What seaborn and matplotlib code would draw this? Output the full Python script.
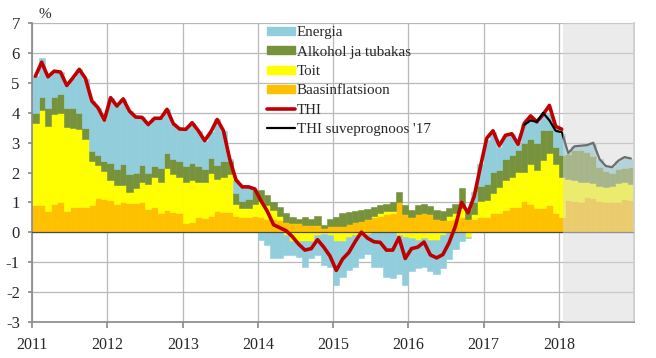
import numpy as np
import pandas as pd
import matplotlib
matplotlib.use("Agg")
import matplotlib.pyplot as plt
from matplotlib.patches import Patch
from matplotlib.lines import Line2D
import seaborn as sns

# monthly contributions to inflation, Jan 2011 - Dec 2018 (2018 Feb.. is forecast)
years = ["2011", "2012", "2013", "2014", "2015", "2016", "2017", "2018"]

baasinflatsioon = [
    0.91, 0.91, 0.72, 0.96, 1.02, 0.72, 0.85, 0.83, 0.83, 0.91, 1.16, 1.13,
    1.07, 0.93, 1.02, 0.98, 0.98, 1.00, 0.79, 0.85, 0.66, 0.76, 0.68, 0.65,
    0.31, 0.35, 0.51, 0.46, 0.55, 0.70, 0.68, 0.68, 0.55, 0.50, 0.50, 0.55,
    0.50, 0.45, 0.45, 0.40, 0.35, 0.30, 0.30, 0.25, 0.25, 0.25, 0.15, 0.20,
    0.20, 0.22, 0.28, 0.33, 0.38, 0.45, 0.50, 0.55, 0.60, 0.65, 1.00, 0.60,
    0.50, 0.60, 0.65, 0.60, 0.45, 0.40, 0.40, 0.45, 0.50, 0.45, 0.45, 0.50,
    0.50, 0.65, 0.63, 0.74, 0.85, 0.83, 1.05, 0.96, 0.80, 0.80, 0.90, 0.63,
    0.50, 1.07, 1.05, 1.02, 1.19, 1.15, 1.05, 1.02, 1.00, 1.00, 1.10, 1.07,
]
toit = [
    2.76, 3.18, 2.84, 3.01, 2.96, 2.81, 2.65, 2.64, 2.28, 1.48, 1.11, 0.92,
    0.68, 0.65, 0.56, 0.37, 0.49, 0.69, 0.84, 1.01, 1.03, 1.39, 1.27, 1.21,
    1.38, 1.40, 1.18, 1.23, 1.45, 1.10, 1.17, 1.27, 0.40, 0.30, 0.30, 0.40,
    0.55, 0.45, 0.30, 0.15, -0.10, -0.30, -0.30, -0.30, -0.30, -0.10, -0.05, -0.10,
    -0.30, -0.30, -0.15, -0.10, -0.10, -0.05, 0.05, 0.10, 0.10, 0.05, -0.10, -0.15,
    -0.20, -0.25, -0.20, -0.25, -0.25, -0.10, 0.15, 0.20, 0.30, -0.15, 0.15, 0.55,
    0.57, 0.65, 0.89, 1.00, 1.01, 1.19, 0.97, 1.34, 1.28, 1.62, 1.74, 1.67,
    1.36, 0.73, 0.70, 0.68, 0.49, 0.50, 0.50, 0.50, 0.55, 0.65, 0.58, 0.56,
]
alkohol = [
    0.33, 0.44, 0.61, 0.57, 0.66, 0.62, 0.67, 0.53, 0.39, 0.33, 0.31, 0.34,
    0.58, 0.53, 0.72, 0.59, 0.53, 0.58, 0.37, 0.36, 0.47, 0.51, 0.51, 0.53,
    0.53, 0.56, 0.53, 0.42, 0.50, 0.45, 0.55, 0.45, 0.35, 0.25, 0.30, 0.45,
    0.36, 0.34, 0.27, 0.30, 0.28, 0.20, 0.15, 0.25, 0.20, 0.30, 0.10, 0.25,
    0.30, 0.41, 0.40, 0.39, 0.36, 0.33, 0.28, 0.25, 0.25, 0.30, 0.35, 0.30,
    0.25, 0.30, 0.31, 0.27, 0.29, 0.30, 0.25, 0.30, 0.67, 0.30, 0.40, 0.50,
    0.56, 0.72, 0.58, 0.73, 0.72, 0.73, 0.96, 0.84, 0.90, 1.00, 0.78, 0.56,
    0.72, 0.82, 1.00, 1.05, 1.02, 0.90, 0.65, 0.53, 0.45, 0.47, 0.47, 0.57,
]
energia = [
    1.23, 1.30, 1.04, 0.86, 0.73, 0.77, 1.01, 1.46, 1.65, 1.68, 1.59, 1.37,
    2.18, 2.12, 2.17, 2.12, 1.86, 1.58, 1.61, 1.60, 1.66, 1.46, 1.18, 1.07,
    1.23, 1.36, 1.18, 0.96, 0.87, 1.53, 1.00, 0.05, 0.45, 0.47, 0.42, 0.05,
    -0.27, -0.44, -0.88, -0.88, -0.67, -0.47, -0.53, -0.86, -0.58, -0.67, -1.05, -1.06,
    -1.48, -1.20, -1.13, -1.06, -0.78, -0.67, -1.16, -1.16, -1.50, -1.55, -1.30, -1.63,
    -1.10, -0.95, -0.95, -1.05, -1.15, -1.10, -0.90, -0.55, -0.30, -0.05, 0.35, 0.75,
    1.45, 1.35, 0.75, 0.75, 0.70, 0.20, 0.65, 0.70, 0.70, 0.50, 0.55, 0.65,
    0.72, 0.03, 0.13, 0.15, 0.22, 0.45, 0.25, 0.17, 0.18, 0.28, 0.37, 0.27,
]
# headline inflation, Jan 2011 - Jan 2018
thi = [
    5.23, 5.70, 5.21, 5.40, 5.37, 4.92, 5.18, 5.46, 5.15, 4.40, 4.17, 3.76,
    4.51, 4.23, 4.47, 4.06, 3.86, 3.85, 3.61, 3.82, 3.82, 4.12, 3.64, 3.46,
    3.45, 3.67, 3.40, 3.07, 3.37, 3.78, 3.40, 2.45, 1.75, 1.52, 1.52, 1.45,
    1.05, 0.70, 0.25, 0.15, 0.05, -0.15, -0.40, -0.60, -0.55, -0.25, -0.50, -0.80,
    -1.28, -0.90, -0.68, -0.32, 0.00, -0.20, -0.32, -0.34, -0.60, -0.60, -0.18, -0.88,
    -0.55, -0.50, -0.33, -0.76, -0.86, -0.75, -0.35, 0.20, 1.00, 0.65, 1.20, 2.20,
    3.15, 3.40, 2.90, 3.25, 3.30, 2.95, 3.65, 3.90, 3.70, 3.95, 4.25, 3.55,
    3.45,
]
# summer 2017 forecast, Jul 2017 - Dec 2018
prognoos_algus = "2017-07"
prognoos = [
    3.60, 3.75, 3.70, 4.00, 3.75, 3.40,
    3.35, 2.65, 2.88, 2.90, 2.92, 3.00, 2.45, 2.22, 2.18, 2.40, 2.52, 2.47,
]
prognoosi_periood = "2018-02"

months = pd.date_range("2011-01-01", periods=len(energia), freq="MS")


def month_pos(ts):
    ts = pd.Timestamp(ts)
    return (ts.year - 2011) * 12 + ts.month - 1


sns.set_theme(style="white")
plt.rcParams['font.family'] = ['Liberation Serif', 'DejaVu Serif']
plt.rcParams['axes.unicode_minus'] = False

fig, ax = plt.subplots(figsize=(6.56, 3.58), dpi=100)
fig.subplots_adjust(left=0.0492, right=0.9665, bottom=0.1014, top=0.9346)

colors = {
    'Energia': '#92CDDC',
    'Alkohol ja tubakas': '#76923C',
    'Toit': '#FFFF00',
    'Baasinflatsioon': '#FFC000',
}
stack = [('Baasinflatsioon', baasinflatsioon), ('Toit', toit),
         ('Alkohol ja tubakas', alkohol), ('Energia', energia)]

x = np.arange(len(months)) + 0.5
pos_bottom = np.zeros(len(months))
neg_bottom = np.zeros(len(months))
for name, vals in stack:
    v = np.asarray(vals, dtype=float)
    bottom = np.where(v >= 0, pos_bottom, neg_bottom)
    ax.bar(x, v, width=1.0, bottom=bottom, color=colors[name],
           edgecolor=colors[name], linewidth=0.4, zorder=2)
    pos_bottom += np.clip(v, 0, None)
    neg_bottom += np.clip(v, None, 0)

ax.axhline(0, color='#4a4a4a', lw=0.9, zorder=3)

df_thi = pd.DataFrame({'x': x[:len(thi)], 'y': thi})
sns.lineplot(data=df_thi, x='x', y='y', ax=ax, color='#C00000', lw=2.6,
             solid_capstyle='round', solid_joinstyle='round', zorder=4)
p0 = month_pos(prognoos_algus)
df_prog = pd.DataFrame({'x': x[p0:p0 + len(prognoos)], 'y': prognoos})
sns.lineplot(data=df_prog, x='x', y='y', ax=ax, color='black', lw=1.6,
             solid_joinstyle='round', zorder=4)

# forecast shading
ax.axvspan(month_pos(prognoosi_periood) - 0.3, len(months), color='#D8D8D8',
           alpha=0.51, lw=0, zorder=5)

ax.set_xlim(0, len(months))
ax.set_ylim(-3, 7)
ax.set_yticks(range(-3, 8))
ax.set_xticks(np.arange(len(years)) * 12)
ax.set_xticklabels(years)
ax.set_xlabel('')
ax.set_ylabel('')
ax.grid(True, color='#B8B8B8', lw=0.9)
ax.set_axisbelow(True)
ax.spines['top'].set_visible(False)
ax.spines['right'].set_color('#C8C8C8')
ax.spines['left'].set_color('#8C8C8C')
ax.spines['bottom'].set_color('#8C8C8C')
ax.tick_params(axis='y', length=3, color='#8C8C8C', pad=6, labelsize=12, left=True)
ax.tick_params(axis='x', length=4, color='#8C8C8C', pad=7, labelsize=11.5, bottom=True)

fig.text(45 / 656, 1 - 14 / 358, '%', ha='center', va='center', fontsize=11)

handles = [Patch(color=colors[k]) for k in colors]
handles += [Line2D([], [], color='#C00000', lw=2.6), Line2D([], [], color='black', lw=1.6)]
labels = list(colors) + ['THI', "THI suveprognoos '17"]
ax.legend(handles, labels, loc='upper left', bbox_to_anchor=(0.390, 0.99),
          frameon=False, fontsize=10.8, handlelength=1.85, handleheight=0.45,
          handletextpad=0.15, labelspacing=0.42, borderpad=0, borderaxespad=0)

plt.savefig('out.png', dpi=100)
